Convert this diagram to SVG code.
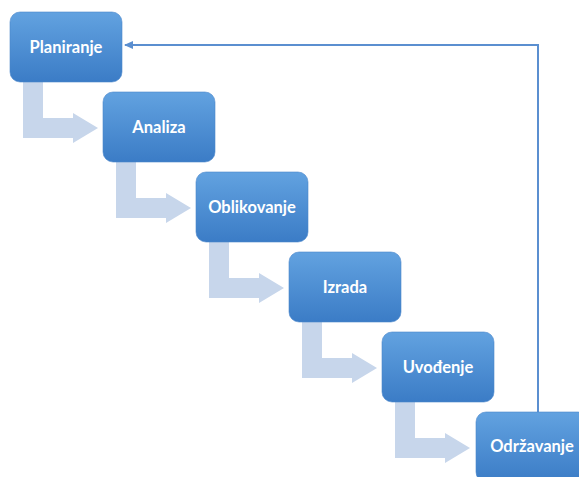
<svg xmlns="http://www.w3.org/2000/svg" width="579" height="477" viewBox="0 0 579 477">
<style>
.box{fill:url(#g);stroke:#4a86cb;stroke-width:0.6}
.lbl{font-family:Lato,"Open Sans",sans-serif;font-weight:bold;font-size:16.5px;fill:#ffffff;text-anchor:middle;dominant-baseline:central}
.step{fill:#c7d6eb}
.fb{fill:none;stroke:#5b8fd0;stroke-width:2}
</style>
<defs>
<linearGradient id="g" x1="0" y1="0" x2="0" y2="1">
<stop offset="0" stop-color="#62a2e0"/>
<stop offset="1" stop-color="#3b7cc6"/>
</linearGradient>
<path id="bent" d="M13,70 H33 V106 H63 V101 L88,116 L63,131 V126 H13 Z"/>
<marker id="ah" markerWidth="10" markerHeight="10" refX="8" refY="5" orient="auto" markerUnits="userSpaceOnUse">
<path d="M0,1 L9,5 L0,9 Z" fill="#5b8fd0"/>
</marker>
</defs>
<rect width="579" height="477" fill="#ffffff"/>
<g id="connectors">
<use href="#bent" class="step" x="10" y="12"/>
<use href="#bent" class="step" x="103" y="92"/>
<use href="#bent" class="step" x="196" y="172"/>
<use href="#bent" class="step" x="289" y="252"/>
<use href="#bent" class="step" x="382" y="332"/>
<path class="fb" d="M538,412 V45 H125" marker-end="url(#ah)"/>
</g>
<g id="planiranje"><rect class="box" x="10" y="12" width="112" height="70" rx="10"/><text class="lbl" x="66" y="47">Planiranje</text></g>
<g id="analiza"><rect class="box" x="103" y="92" width="112" height="70" rx="10"/><text class="lbl" x="159" y="127">Analiza</text></g>
<g id="oblikovanje"><rect class="box" x="196" y="172" width="112" height="70" rx="10"/><text class="lbl" x="252" y="207">Oblikovanje</text></g>
<g id="izrada"><rect class="box" x="289" y="252" width="112" height="70" rx="10"/><text class="lbl" x="345" y="287">Izrada</text></g>
<g id="uvodjenje"><rect class="box" x="382" y="332" width="112" height="70" rx="10"/><text class="lbl" x="438" y="367">Uvođenje</text></g>
<g id="odrzavanje"><rect class="box" x="476" y="412" width="112" height="70" rx="10"/><text class="lbl" x="532" y="446">Održavanje</text></g>
</svg>
